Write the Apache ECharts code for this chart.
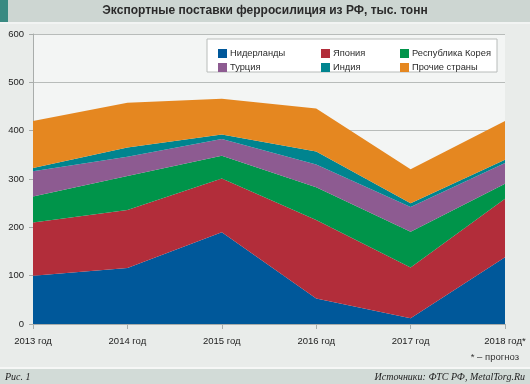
<!DOCTYPE html>
<html><head><meta charset="utf-8">
<script src="https://cdn.jsdelivr.net/npm/echarts@6/dist/echarts.min.js"></script>
<style>
html,body{margin:0;padding:0;background:#e9ecea;}
#c{width:530px;height:384px;}
</style></head>
<body><div id="c"></div>
<script>
const years = ['2013 год','2014 год','2015 год','2016 год','2017 год','2018 год*'];
const netherlands = [100, 116, 190, 53, 12, 138];
const japan = [110, 120, 111, 162, 105, 121];
const korea = [54, 70, 47, 68, 74, 31];
const turkey = [52, 40, 35, 47, 51, 43];
const india = [7, 19, 9, 27, 8, 7];
const others = [97, 93, 74, 89, 70, 80];
const yTicks = [0, 100, 200, 300, 400, 500, 600];

const names = ['Нидерланды','Япония','Республика Корея','Турция','Индия','Прочие страны'];
const values = [netherlands, japan, korea, turkey, india, others];
const colors = ['#00589a','#b22d3a','#00944a','#8d5b91','#00848f','#e58720'];

const chart = echarts.init(document.getElementById('c'));
const legendCommon = {
  orient:'vertical', top:44, itemWidth:9, itemHeight:9, itemGap:5,
  icon:'rect', textStyle:{fontSize:9.3, color:'#2a2a2a', fontFamily:'Liberation Sans', padding:[0,0,0,-2]}
};
chart.setOption({
  backgroundColor:'#e9ecea',
  animation:false,
  graphic:[
    {type:'rect', shape:{x:0,y:0,width:530,height:22}, style:{fill:'#cdd6d2'}},
    {type:'rect', shape:{x:0,y:0,width:8,height:22}, style:{fill:'#3a8a82'}},
    {type:'text', x:265, y:11, style:{text:'Экспортные поставки ферросилиция из РФ, тыс. тонн', font:'bold 12px "Liberation Sans"', fill:'#2a2a2a', align:'center', verticalAlign:'middle'}},
    {type:'rect', shape:{x:0,y:22,width:530,height:2}, style:{fill:'#f2f4f3'}},
    {type:'rect', shape:{x:207,y:39,width:290,height:33}, style:{fill:'#ffffff', stroke:'#b8bcba', lineWidth:1}, z:5},
    {type:'text', x:519, y:357, style:{text:'* – прогноз', font:'9.5px "Liberation Sans"', fill:'#333', align:'right', verticalAlign:'middle'}},
    {type:'rect', shape:{x:0,y:367,width:530,height:2}, style:{fill:'#f6f7f6'}},
    {type:'rect', shape:{x:0,y:369,width:530,height:15}, style:{fill:'#d2dbd7'}},
    {type:'text', x:5, y:377, style:{text:'Рис. 1', font:'italic 10px "Liberation Serif"', fill:'#222', align:'left', verticalAlign:'middle'}},
    {type:'text', x:525, y:377, style:{text:'Источники: ФТС РФ, MetalTorg.Ru', font:'italic 10px "Liberation Serif"', fill:'#222', align:'right', verticalAlign:'middle'}}
  ],
  legend:[
    Object.assign({left:213, data:[names[0], names[3]]}, legendCommon, {z:10}),
    Object.assign({left:316, data:[names[1], names[4]]}, legendCommon, {z:10}),
    Object.assign({left:395, data:[names[2], names[5]]}, legendCommon, {z:10})
  ],
  grid:{left:33, right:25, top:34, bottom:60, show:true, backgroundColor:'#f3f5f4', borderWidth:0},
  xAxis:{
    type:'category', data:years, boundaryGap:false,
    axisLine:{show:true, lineStyle:{color:'#a9adab'}},
    axisTick:{show:true, length:5, lineStyle:{color:'#a9adab'}},
    axisLabel:{fontSize:9.5, color:'#222', fontFamily:'Liberation Sans', margin:12},
    splitLine:{show:false}
  },
  yAxis:{
    type:'value', min:yTicks[0], max:yTicks[yTicks.length-1], interval:100,
    axisLine:{show:true, lineStyle:{color:'#a9adab'}},
    axisTick:{show:true, length:4, lineStyle:{color:'#a9adab'}},
    axisLabel:{fontSize:9.5, color:'#222', fontFamily:'Liberation Sans', margin:9},
    splitLine:{show:true, lineStyle:{color:'#b8bcba'}}
  },
  series: names.map((n,i)=>({
    name:n, type:'line', stack:'total', data:values[i], symbol:'none',
    lineStyle:{width:0}, areaStyle:{color:colors[i], opacity:1}, itemStyle:{color:colors[i]}
  }))
});
</script></body></html>
